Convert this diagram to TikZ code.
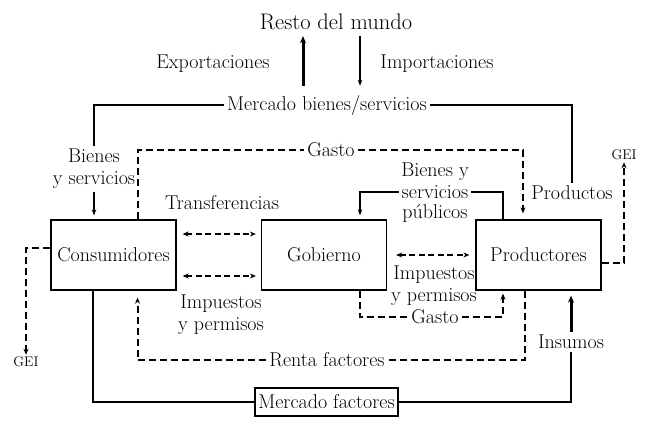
\documentclass[tikz,border=0pt]{standalone}
\usetikzlibrary{arrows.meta}
\begin{document}
\begin{tikzpicture}[x=1pt,y=-1pt,
  txt/.style={font=\fontsize{20}{22}\selectfont, inner sep=3pt, align=center},
  small/.style={font=\fontsize{14}{16}\selectfont, inner sep=2pt},
  box/.style={txt, draw, line width=1.3pt, minimum width=125pt, minimum height=70pt},
  mktbox/.style={txt, draw, line width=1.3pt, minimum width=143pt, minimum height=28pt, inner sep=1pt},
  flow/.style={line width=1.2pt},
  flowarr/.style={flow, -{Stealth[length=6pt,width=4.5pt]}},
  bigarr/.style={line width=3pt, -{Stealth[length=7pt,width=6pt]}},
  dflow/.style={line width=2pt, dash pattern=on 7pt off 4pt},
  dflowarr/.style={dflow, -{Stealth[length=6pt,width=5pt]}},
  darr/.style={line width=1.5pt, dash pattern=on 6pt off 3.5pt, {Stealth[length=6pt,width=5pt]}-{Stealth[length=6pt,width=5pt]}}]
\useasboundingbox (0,0) rectangle (647,429);

\node[box] (cons) at (113.5,255) {Consumidores};
\node[box] (gob) at (324,255) {Gobierno};
\node[box] (prod) at (538.5,255) {Productores};
\node[mktbox] (mf) at (326.5,402) {Mercado factores};

\node[txt, font=\fontsize{22.5}{26}\selectfont] (resto) at (336,22) {Resto del mundo};
\node[txt] (expo) at (213,64) {Exportaciones};
\node[txt] (impo) at (437,64) {Importaciones};
\node[txt] (mbs) at (327,105) {Mercado bienes/servicios};
\node[txt] (bys) at (94,169) {Bienes\\y servicios};
\node[txt] (gasto1) at (331,150) {Gasto};
\node[txt] (bsp1) at (435,172) {Bienes y};
\node[txt] (bsp2) at (435,192) {servicios};
\node[txt] (bsp3) at (435,213) {públicos};
\node[txt] (prods) at (572,193) {Productos};
\node[txt] (transf) at (222,203) {Transferencias};
\node[txt] (impL) at (221,315) {Impuestos\\y permisos};
\node[txt] (impR) at (434,286) {Impuestos\\y permisos};
\node[txt] (gasto2) at (435,317) {Gasto};
\node[txt] (renta) at (327,360) {Renta factores};
\node[txt] (insumos) at (571,342) {Insumos};
\node[small] (geiL) at (26,362) {GEI};
\node[small] (geiR) at (624,155) {GEI};

% resto del mundo
\draw[bigarr, shorten <=6pt, shorten >=3pt] ([xshift=-24pt]mbs.north) -- ([xshift=-33pt]resto.south);
\draw[flowarr, shorten <=3pt, shorten >=6pt] ([xshift=24pt]resto.south) -- ([xshift=33pt]mbs.north);

% mercado bienes/servicios
\draw[flow] (mbs.west) -| (bys.north);
\draw[flow] (mbs.east) -| (prods.north);
\draw[flowarr, shorten >=4pt] (bys.south) -- (bys.south |- cons.north);
\draw[flow] ([xshift=-35.5pt]prod.north) |- (bsp2.east);
\draw[flowarr, shorten >=4pt] (bsp2.west) -| ([xshift=36pt]gob.north);

% gasto
\draw[dflow] ([xshift=24.5pt]cons.north) |- (gasto1.west);
\draw[dflowarr, shorten >=6pt] (gasto1.east) -| ([xshift=-15.5pt]prod.north);
\draw[dflow] ([xshift=36pt]gob.south) |- (gasto2.west);
\draw[dflowarr, shorten >=3pt] (gasto2.east) -| ([xshift=-35.5pt]prod.south);

% transferencias e impuestos
\draw[darr, shorten <=6pt, shorten >=5pt] ([yshift=21pt]cons.east) -- ([yshift=21pt]gob.west);
\draw[darr, shorten <=6pt, shorten >=5pt] ([yshift=-21pt]cons.east) -- ([yshift=-21pt]gob.west);
\draw[darr, shorten <=9pt, shorten >=6pt] (gob.east) -- (prod.west);

% factores
\draw[dflow] ([xshift=-13.5pt]prod.south) |- (renta.east);
\draw[dflowarr, shorten >=7pt] (renta.west) -| ([xshift=24pt]cons.south);
\draw[flow] ([xshift=-20.5pt]cons.south) |- (mf.west);
\draw[flow] (mf.east) -| (insumos.south);
\draw[bigarr, shorten >=5pt] (insumos.north) -- ([xshift=32.5pt]prod.south);

% GEI
\draw[dflowarr] ([yshift=7pt]cons.west) -| (geiL.north);
\draw[dflowarr] ([yshift=-7.5pt]prod.east) -| (geiR.south);
\end{tikzpicture}
\end{document}
